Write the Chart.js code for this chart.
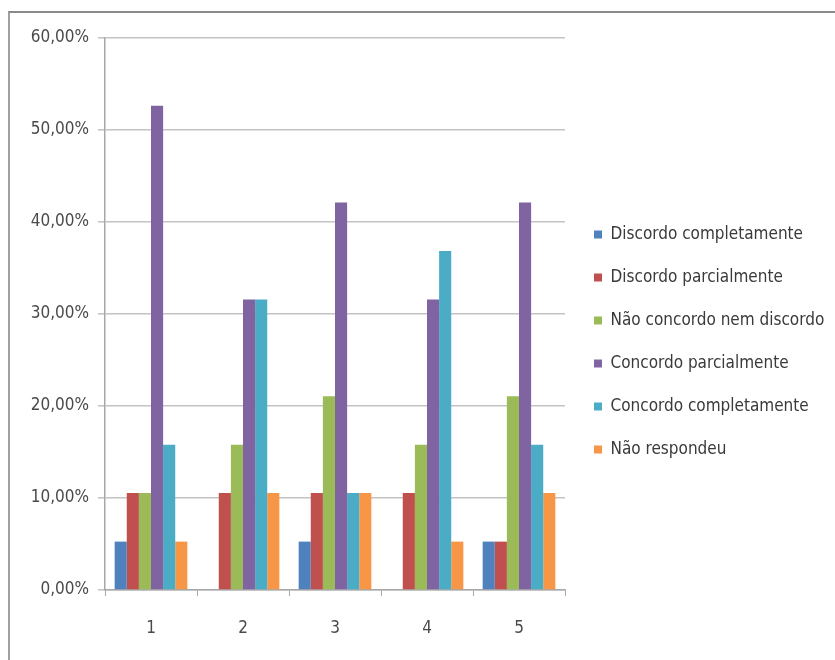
<!DOCTYPE html>
<html>
<head>
<meta charset="utf-8">
<script src="https://cdn.jsdelivr.net/npm/chart.js@4/dist/chart.umd.min.js"></script>
<style>
  html, body { margin: 0; padding: 0; background: #ffffff; }
  #wrap { position: relative; width: 835px; height: 660px; overflow: hidden; }
  #frame { position: absolute; left: 8px; top: 11px; width: 900px; height: 700px;
           border-top: 2px solid #8a8a8a; border-left: 2px solid #a0a0a0; }
  #c { position: absolute; left: 0; top: 0; }
</style>
</head>
<body>
<div id="wrap">
  <div id="frame"></div>
  <canvas id="c" width="835" height="660"></canvas>
</div>
<script>
// Survey answers per question (percent of respondents)
const categories = ['1', '2', '3', '4', '5'];
const seriesNames = [
  'Discordo completamente',
  'Discordo parcialmente',
  'Não concordo nem discordo',
  'Concordo parcialmente',
  'Concordo completamente',
  'Não respondeu'
];
const discordoCompletamente  = [5.26, 0, 5.26, 0, 5.26];
const discordoParcialmente   = [10.53, 10.53, 10.53, 10.53, 5.26];
const naoConcordoNemDiscordo = [10.53, 15.79, 21.05, 15.79, 21.05];
const concordoParcialmente   = [52.63, 31.58, 42.11, 31.58, 42.11];
const concordoCompletamente  = [15.79, 31.58, 10.53, 36.84, 15.79];
const naoRespondeu           = [5.26, 10.53, 10.53, 5.26, 10.53];
const yTicks = [0, 10, 20, 30, 40, 50, 60];

const seriesValues = [
  discordoCompletamente, discordoParcialmente, naoConcordoNemDiscordo,
  concordoParcialmente, concordoCompletamente, naoRespondeu
];
const colors = ['#4F81BD', '#C0504D', '#9BBB59', '#8064A2', '#4BACC6', '#F79646'];

const FONT = "'DejaVu Sans Condensed', 'Liberation Sans Narrow', sans-serif";

// Fixed-width legend column placed beside the plot
const legendPlacement = {
  id: 'legendPlacement',
  beforeLayout(chart) {
    const lg = chart.legend;
    if (lg && !lg._fixedFit) {
      const orig = lg.fit;
      lg.fit = function () { orig.call(this); this.width = 270; };
      lg._fixedFit = true;
    }
  },
  afterLayout(chart) {
    const lg = chart.legend;
    lg.left = 568; lg.right = 835;
    lg.top = 200; lg.bottom = 600;
  }
};

new Chart(document.getElementById('c'), {
  type: 'bar',
  data: {
    labels: categories,
    datasets: seriesNames.map((name, i) => ({
      label: name,
      data: seriesValues[i],
      backgroundColor: colors[i],
      borderWidth: 0,
      categoryPercentage: 0.79,
      barPercentage: 1.0
    }))
  },
  options: {
    responsive: false,
    animation: false,
    devicePixelRatio: 1,
    layout: { padding: { left: 0, top: 38, right: 0, bottom: 0 } },
    plugins: {
      tooltip: { enabled: false },
      legend: {
        position: 'right',
        align: 'start',
        labels: {
          boxWidth: 8,
          boxHeight: 8,
          padding: 26,
          color: '#3a3a3a',
          font: { family: FONT, size: 17 }
        }
      }
    },
    scales: {
      x: {
        afterFit(s) { s.height = 70; },
        grid: { display: true, drawOnChartArea: false, drawTicks: true, tickLength: 6,
                color: '#a8a8a8', offset: true },
        border: { display: true, color: '#a8a8a8', width: 1.5 },
        ticks: { color: '#4a4a4a', padding: 22, font: { family: FONT, size: 17 } }
      },
      y: {
        min: 0, max: 60,
        afterFit(s) { s.width = 105; },
        afterBuildTicks(s) { s.ticks = yTicks.map(v => ({ value: v })); },
        grid: { color: '#c4c4c4', lineWidth: 1.6, tickLength: 7, drawTicks: true },
        border: { display: true, color: '#a8a8a8', width: 1.5 },
        ticks: {
          color: '#4a4a4a', padding: 9,
          font: { family: FONT, size: 17 },
          callback: v => v.toFixed(2).replace('.', ',') + '%'
        }
      }
    }
  },
  plugins: [legendPlacement]
});
</script>
</body>
</html>
